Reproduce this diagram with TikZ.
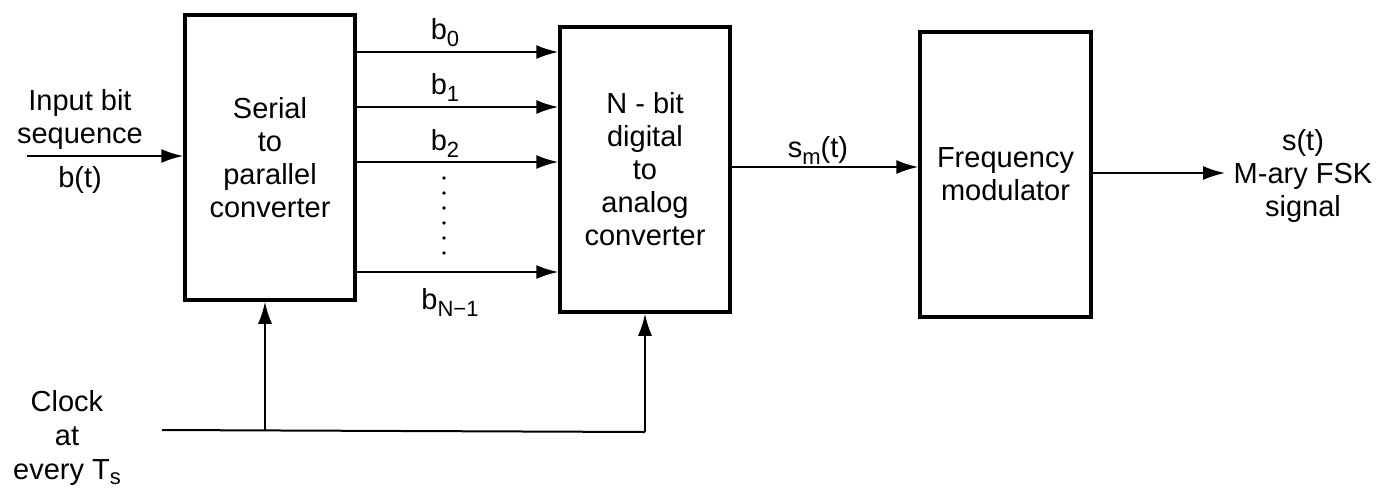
\documentclass[tikz,border=0pt]{standalone}
\usepackage{fontspec}
\setmainfont{Liberation Sans}
\usetikzlibrary{arrows.meta}
\newcommand\mysub[2][-7pt]{\raisebox{#1}{\fontsize{22}{22}\selectfont #2}}
\begin{document}
\begin{tikzpicture}[x=1pt,y=-1pt,
  every node/.style={font=\fontsize{29}{33}\selectfont, inner sep=0pt},
  blk/.style={draw, line width=3.5pt, align=center, minimum width=170pt},
  arr/.style={line width=2pt, -{Latex[length=22pt,width=14pt]}},
  wire/.style={line width=2pt},
  lbl/.style={align=center}]
\useasboundingbox (0,0) rectangle (1391,493);
% blocks
\node[blk, minimum height=285pt] (sp) at (270,157.5) {Serial\\to\\parallel\\converter};
\node[blk, minimum height=285pt] (dac) at (645,169.5) {N - bit\\digital\\to\\analog\\converter};
\node[blk, minimum height=285pt, minimum width=171pt] (fm) at (1005.5,174.5) {Frequency\\modulator};
% input
\coordinate (in) at (27,156);
\draw[arr] (in) -- (sp.west |- in);
\node[lbl] (inlbl) at (80,119) {Input bit\\sequence};
\node[lbl] (bt) at (80,180) {b(t)};
% parallel lines
\foreach \y/\n in {52/0,107/1,162/2,272/3} {
  \coordinate (p\n) at (0,\y);
  \draw[arr] (sp.east |- p\n) -- (dac.west |- p\n);
}
\node (b0) at (445,33) {b\mysub{0}};
\node (b1) at (445,87) {b\mysub{1}};
\node (b2) at (445,143) {b\mysub{2}};
\node (bn) at (450,302) {b\mysub{N−1}};
\foreach \y in {178,193,208,223,238,253} \fill (444,\y) circle (1.8pt);
% DAC to FM
\draw[arr] (dac.east |- 0,167) -- (fm.west |- 0,167);
\node (sm) at (818,150) {s\mysub{m}(t)};
% output
\coordinate (out) at (1225,173);
\draw[arr] (fm.east |- out) -- (out);
\node[lbl] (outlbl) at (1303,176) {s(t)\\M-ary FSK\\signal};
% clock
\coordinate (c0) at (162,430);
\coordinate (c1) at (265,431);
\coordinate (c2) at (645,432);
\draw[wire] (c0) -- (c2);
\draw[arr] (c1) -- (sp.south -| c1);
\draw[arr] (c2) -- (dac.south);
\node[lbl, font=\fontsize{29}{34}\selectfont] (clk) at (67,438) {Clock\\at\\every T\mysub[-5pt]{s}};
\end{tikzpicture}
\end{document}
